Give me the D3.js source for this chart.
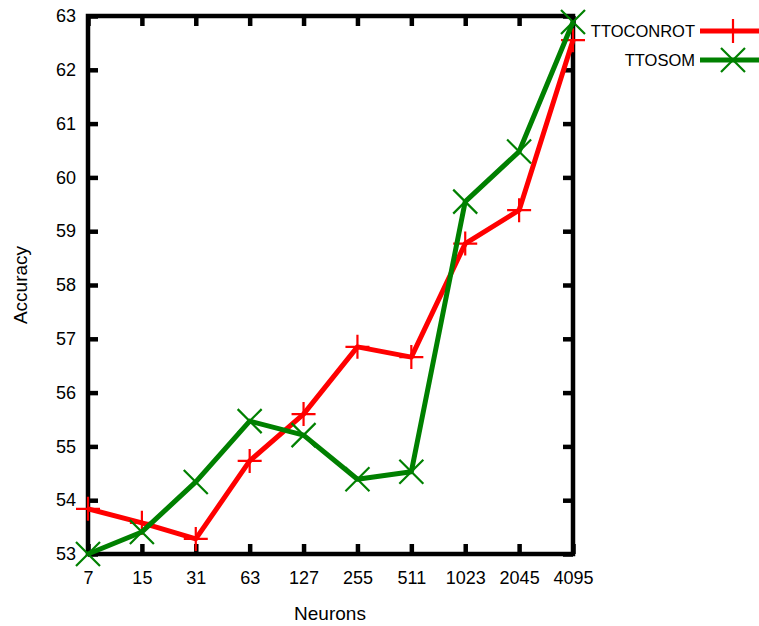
<!DOCTYPE html>
<html>
<head>
<meta charset="utf-8">
<script src="https://cdn.jsdelivr.net/npm/d3@7"></script>
<style>
body { margin: 0; background: #fff; }
text { font-family: "Liberation Sans", Arial, sans-serif; fill: #000; }
</style>
</head>
<body>
<div id="chart"></div>
<script>
// data
var neurons = ["7", "15", "31", "63", "127", "255", "511", "1023", "2045", "4095"];
var ttoconrot = [53.84, 53.58, 53.28, 54.73, 55.60, 56.85, 56.66, 58.77, 59.39, 62.55];
var ttosom = [53.00, 53.41, 54.34, 55.47, 55.21, 54.39, 54.53, 59.55, 60.48, 62.89];
var yTicks = [53, 54, 55, 56, 57, 58, 59, 60, 61, 62, 63];

var svgWidth = 759;
var svgHeight = 626;
var margin = { top: 16, right: 186, bottom: 72, left: 88 };
var width = svgWidth - margin.left - margin.right;
var height = svgHeight - margin.top - margin.bottom;

var svg = d3.select("#chart")
    .append("svg")
    .attr("width", svgWidth)
    .attr("height", svgHeight);

var g = svg.append("g")
    .attr("transform", `translate(${margin.left}, ${margin.top})`);

var x = d3.scalePoint()
    .domain(neurons)
    .range([0, width]);

var y = d3.scaleLinear()
    .domain([53, 63])
    .range([height, 0]);

// axes, ticks pointing inwards on all four sides
function styleAxis(sel) {
    sel.select(".domain").remove();
    sel.selectAll(".tick line").attr("stroke", "#000").attr("stroke-width", 4.5);
    sel.selectAll("text").style("font-size", "18px").attr("fill", "#000");
}

g.append("g")
    .attr("transform", `translate(0, ${height})`)
    .call(d3.axisBottom(x).tickSizeInner(-10).tickSizeOuter(0).tickPadding(17))
    .call(styleAxis);

g.append("g")
    .call(d3.axisTop(x).tickSizeInner(-10).tickSizeOuter(0).tickFormat(""))
    .call(styleAxis);

g.append("g")
    .call(d3.axisLeft(y).tickValues(yTicks).tickSizeInner(-10).tickSizeOuter(0).tickPadding(12))
    .call(styleAxis);

g.append("g")
    .attr("transform", `translate(${width}, 0)`)
    .call(d3.axisRight(y).tickValues(yTicks).tickSizeInner(-10).tickSizeOuter(0).tickFormat(""))
    .call(styleAxis);

// frame
g.append("rect")
    .attr("width", width)
    .attr("height", height)
    .attr("fill", "none")
    .attr("stroke", "#000")
    .attr("stroke-width", 4.5);

// axis titles
svg.append("text")
    .attr("x", 330)
    .attr("y", 620)
    .attr("text-anchor", "middle")
    .style("font-size", "19px")
    .text("Neurons");

svg.append("text")
    .attr("transform", "translate(27, 285) rotate(-90)")
    .attr("text-anchor", "middle")
    .style("font-size", "19px")
    .text("Accuracy");

// markers
function plusPath(s) {
    return `M${-s},0H${s}M0,${-s}V${s}`;
}
function crossPath(s) {
    return `M${-s},${-s}L${s},${s}M${-s},${s}L${s},${-s}`;
}

var series = [
    { name: "TTOCONROT", values: ttoconrot, color: "#ff0000", marker: plusPath(12) },
    { name: "TTOSOM", values: ttosom, color: "#008000", marker: crossPath(12) }
];

var line = d3.line()
    .x((d, i) => x(neurons[i]))
    .y(d => y(d));

series.forEach(function(s, k) {
    g.append("path")
        .datum(s.values)
        .attr("d", line)
        .attr("fill", "none")
        .attr("stroke", s.color)
        .attr("stroke-width", 5)
        .attr("stroke-linejoin", "round");

    g.selectAll(".m" + k)
        .data(s.values)
        .enter()
        .append("path")
        .attr("class", "m" + k)
        .attr("transform", (d, i) => `translate(${x(neurons[i])}, ${y(d)})`)
        .attr("d", s.marker)
        .attr("fill", "none")
        .attr("stroke", s.color)
        .attr("stroke-width", 2.2);

    // legend
    var ly = 31 + k * 29;
    svg.append("text")
        .attr("x", 695)
        .attr("y", ly)
        .attr("dy", "0.35em")
        .attr("text-anchor", "end")
        .style("font-size", "16.5px")
        .text(s.name);
    svg.append("line")
        .attr("x1", 700)
        .attr("x2", 759)
        .attr("y1", ly)
        .attr("y2", ly)
        .attr("stroke", s.color)
        .attr("stroke-width", 5);
    svg.append("path")
        .attr("transform", `translate(733, ${ly})`)
        .attr("d", s.marker)
        .attr("fill", "none")
        .attr("stroke", s.color)
        .attr("stroke-width", 2.2);
});
</script>
</body>
</html>
